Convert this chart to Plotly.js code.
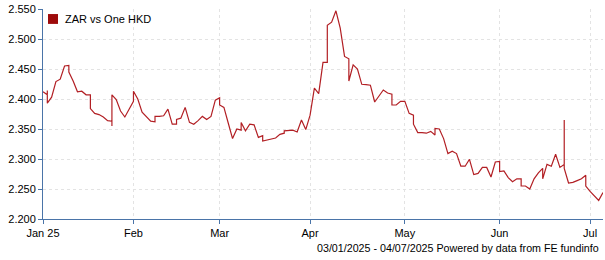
<!DOCTYPE html>
<html>
<head>
<meta charset="utf-8">
<script src="https://cdn.plot.ly/plotly-3.0.1.min.js"></script>
<style>
html,body{margin:0;padding:0;background:#fff;}
#chart{width:605px;height:260px;}
</style>
</head>
<body>
<div id="chart"></div>
<script>
// Business-day dates (Mondays repeated where the weekend values collapse onto Monday)
var dates = [
"2025-01-03",
"2025-01-06","2025-01-06","2025-01-06","2025-01-07","2025-01-08","2025-01-09","2025-01-10",
"2025-01-13","2025-01-13","2025-01-14","2025-01-15","2025-01-16","2025-01-17",
"2025-01-20","2025-01-20","2025-01-21","2025-01-22","2025-01-23","2025-01-24",
"2025-01-27","2025-01-27","2025-01-27","2025-01-28","2025-01-29","2025-01-30","2025-01-31",
"2025-02-03","2025-02-03","2025-02-04","2025-02-05","2025-02-06","2025-02-07",
"2025-02-10","2025-02-10","2025-02-11","2025-02-12","2025-02-13","2025-02-14",
"2025-02-17","2025-02-17","2025-02-18","2025-02-19","2025-02-20","2025-02-21",
"2025-02-24","2025-02-25","2025-02-26","2025-02-27","2025-02-28",
"2025-03-03","2025-03-03","2025-03-04","2025-03-05","2025-03-06","2025-03-07",
"2025-03-10","2025-03-10","2025-03-11","2025-03-12","2025-03-13","2025-03-14",
"2025-03-17","2025-03-17","2025-03-18","2025-03-19","2025-03-20","2025-03-21",
"2025-03-24","2025-03-24","2025-03-25","2025-03-26","2025-03-27","2025-03-28",
"2025-03-31","2025-04-01","2025-04-02","2025-04-03","2025-04-04",
"2025-04-07","2025-04-07","2025-04-08","2025-04-09","2025-04-10","2025-04-11",
"2025-04-14","2025-04-14","2025-04-15","2025-04-16","2025-04-17","2025-04-18",
"2025-04-21","2025-04-22","2025-04-23","2025-04-24","2025-04-25",
"2025-04-28","2025-04-28","2025-04-29","2025-04-30","2025-05-01","2025-05-02",
"2025-05-05","2025-05-05","2025-05-06","2025-05-07","2025-05-08","2025-05-09",
"2025-05-12","2025-05-12","2025-05-13","2025-05-14","2025-05-15","2025-05-16",
"2025-05-19","2025-05-20","2025-05-21","2025-05-22","2025-05-23",
"2025-05-26","2025-05-27","2025-05-28","2025-05-29","2025-05-30",
"2025-06-02","2025-06-02","2025-06-03","2025-06-04","2025-06-05","2025-06-06",
"2025-06-09","2025-06-09","2025-06-10","2025-06-11","2025-06-12","2025-06-13",
"2025-06-16","2025-06-16","2025-06-17","2025-06-18","2025-06-19","2025-06-20",
"2025-06-23","2025-06-23","2025-06-23","2025-06-24","2025-06-25","2025-06-26","2025-06-27",
"2025-06-30","2025-06-30","2025-07-01","2025-07-02","2025-07-03","2025-07-04"
];

var values = [
2.412,
2.407,2.414,2.393,2.403,2.429,2.433,2.455,
2.456,2.445,2.430,2.412,2.413,2.407,
2.407,2.384,2.376,2.374,2.370,2.364,
2.363,2.355,2.407,2.399,2.380,2.370,2.384,
2.396,2.413,2.400,2.378,2.370,2.363,
2.362,2.371,2.371,2.372,2.383,2.358,
2.358,2.366,2.368,2.386,2.361,2.358,
2.364,2.371,2.366,2.371,2.398,
2.402,2.390,2.386,2.360,2.334,2.350,
2.348,2.361,2.347,2.358,2.357,2.336,
2.339,2.330,2.332,2.333,2.335,2.341,
2.343,2.347,2.347,2.348,2.345,2.365,
2.349,2.373,2.418,2.409,2.461,
2.461,2.523,2.528,2.547,2.518,2.471,
2.467,2.430,2.457,2.450,2.4245,2.424,
2.423,2.395,2.404,2.415,2.410,
2.408,2.390,2.390,2.396,2.396,2.376,
2.373,2.358,2.344,2.344,2.343,2.346,
2.340,2.351,2.350,2.334,2.309,2.313,
2.309,2.288,2.288,2.2995,2.274,
2.276,2.286,2.286,2.270,2.295,
2.296,2.279,2.280,2.269,2.262,2.267,
2.267,2.255,2.255,2.250,2.267,2.277,
2.2845,2.267,2.291,2.288,2.308,2.286,
2.291,2.365,2.2845,2.260,2.261,2.264,2.267,
2.273,2.255,2.246,2.238,2.231,2.244
];

var seriesName = "ZAR vs One HKD";
var tickDates = ["2025-01-03","2025-02-03","2025-03-03","2025-04-01","2025-05-01","2025-06-02","2025-07-01"];
var tickLabels = ["Jan 25","Feb","Mar","Apr","May","Jun","Jul"];
var yTicks = [2.20, 2.25, 2.30, 2.35, 2.40, 2.45, 2.50, 2.55];
var footerText = "03/01/2025 - 04/07/2025 Powered by data from FE fundinfo";

var axisColor = "#4a74a8";
var fontFam = "Liberation Sans, Arial, sans-serif";

var trace = {
  x: dates,
  y: values,
  type: "scatter",
  mode: "lines",
  name: seriesName,
  line: {color: "#b21f24", width: 1.2},
  showlegend: false,
  hoverinfo: "skip"
};

var layout = {
  width: 605,
  height: 260,
  margin: {l: 42.5, r: 2.2, t: 9, b: 41},
  paper_bgcolor: "#ffffff",
  plot_bgcolor: "#ffffff",
  font: {family: fontFam, size: 11, color: "#000"},
  showlegend: false,
  xaxis: {
    type: "date",
    range: ["2025-01-03", "2025-07-04"],
    rangebreaks: [{bounds: ["sat", "mon"]}],
    tickmode: "array",
    tickvals: tickDates,
    ticktext: tickLabels,
    ticks: "outside",
    ticklen: 4,
    tickcolor: axisColor,
    showline: true,
    linecolor: axisColor,
    linewidth: 1,
    showgrid: true,
    gridcolor: "#e3e3e3",
    griddash: "dot",
    zeroline: false,
    tickfont: {family: fontFam, size: 11, color: "#000"},
    fixedrange: true
  },
  yaxis: {
    range: [2.2, 2.55],
    tickmode: "array",
    tickvals: yTicks,
    tickformat: ".3f",
    ticks: "outside",
    ticklen: 4,
    tickcolor: axisColor,
    showline: true,
    linecolor: axisColor,
    linewidth: 1,
    showgrid: true,
    gridcolor: "#e3e3e3",
    griddash: "dot",
    zeroline: false,
    tickfont: {family: fontFam, size: 11, color: "#000"},
    fixedrange: true
  },
  shapes: [{
    type: "rect", xref: "paper", yref: "paper",
    x0: 0.0089, x1: 0.0268, y0: 0.929, y1: 0.976,
    fillcolor: "#9e0b0b", line: {width: 0}
  }],
  annotations: [
    {
      text: seriesName, xref: "paper", yref: "paper",
      x: 0.0366, y: 0.952, xanchor: "left", yanchor: "middle",
      showarrow: false, font: {family: fontFam, size: 11, color: "#000"}
    },
    {
      text: footerText, xref: "paper", yref: "paper",
      x: 1, y: -0.138, xanchor: "right", yanchor: "middle", xshift: -2,
      showarrow: false, font: {family: fontFam, size: 10.7, color: "#000"}
    }
  ]
};

Plotly.newPlot("chart", [trace], layout, {staticPlot: true, displayModeBar: false});
</script>
</body>
</html>
